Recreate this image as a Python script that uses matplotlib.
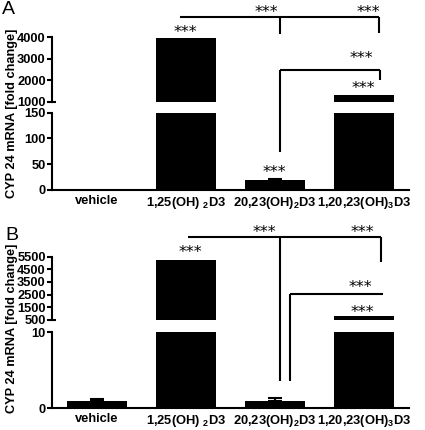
import matplotlib
matplotlib.use("Agg")
import matplotlib.pyplot as plt
from matplotlib.lines import Line2D

plt.rcParams['font.family'] = ['Liberation Sans', 'DejaVu Sans']
plt.rcParams['font.weight'] = 'bold'
plt.rcParams['mathtext.fontset'] = 'custom'
plt.rcParams['mathtext.bf'] = 'Liberation Sans:bold'
plt.rcParams['mathtext.rm'] = 'Liberation Sans:bold'
plt.rcParams['mathtext.default'] = 'bf'

# data
labels = ["vehicle", r"1,25(OH) $_2$D3", r"20,23(OH)$_2$D3", r"1,20,23(OH)$_3$D3"]
pos = [0, 1, 2, 3]
a_vals = [1, 3950, 19, 1290]
a_err = [0, 0, 3, 0]
b_vals = [1.0, 5240, 0.9, 820]
b_err = [0.2, 0, 0.45, 0]

a_up_ticks = [1000, 2000, 3000, 4000]
a_lo_ticks = [0, 50, 100, 150]
b_up_ticks = [500, 1500, 2500, 3500, 4500, 5500]
b_lo_ticks = [0, 10]

W, H = 425, 430
fig = plt.figure(figsize=(W / 100, H / 100), dpi=100)

def px_axes(x0, x1, ytop, ybot):
    return fig.add_axes([x0 / W, 1 - ybot / H, (x1 - x0) / W, (ybot - ytop) / H])

LW = 1.5

def style(ax, ticks, lims, upper):
    ax.set_xlim(-0.5, 3.5)
    ax.set_ylim(*lims)
    ax.set_yticks(ticks)
    ax.tick_params(axis='y', length=3.5, width=LW, labelsize=9.3, pad=1)
    ax.tick_params(axis='x', length=0, labelsize=9.3, pad=3.5)
    for s in ['top', 'right']:
        ax.spines[s].set_visible(False)
    ax.spines['left'].set_linewidth(LW)
    ax.spines['bottom'].set_linewidth(LW)
    if upper:
        ax.spines['bottom'].set_visible(False)
        ax.set_xticks([])
        # little foot marking the axis break
        ax.plot([0, 0.012], [0, 0], transform=ax.transAxes, color='k',
                lw=LW, clip_on=False, solid_capstyle='butt')
    else:
        ax.set_xticks(pos)
        ax.set_xticklabels(labels)

def draw_bars(ax, vals, err):
    ax.bar(pos, vals, width=0.67, color='black')
    for x, v, e in zip(pos, vals, err):
        if e > 0:
            ax.errorbar(x, v, yerr=[[0], [e]], color='black', capsize=5,
                        elinewidth=LW, capthick=LW)

def fpt(ax, x, y):
    return fig.transFigure.inverted().transform(ax.transData.transform((x, y)))

def seg(ax0, x0, y0, ax1, x1, y1):
    p0 = fpt(ax0, x0, y0)
    p1 = fpt(ax1, x1, y1)
    fig.add_artist(Line2D([p0[0], p1[0]], [p0[1], p1[1]], transform=fig.transFigure,
                          color='black', lw=LW, solid_capstyle='butt'))

def stars(ax, x, y):
    p = fpt(ax, x, y)
    fig.text(p[0], p[1], "***", ha='center', va='center', fontsize=11.5,
             fontweight='normal', family='DejaVu Sans')

# panel A
a_up = px_axes(52, 409, 37, 101.7)
a_lo = px_axes(52, 409, 112.7, 190)
for ax in (a_up, a_lo):
    draw_bars(ax, a_vals, a_err)
style(a_up, a_up_ticks, (1000, 4000), True)
style(a_lo, a_lo_ticks, (0, 150), False)

# panel B
b_up = px_axes(52, 409, 256.7, 319.7)
b_lo = px_axes(52, 409, 332.3, 408.3)
for ax in (b_up, b_lo):
    draw_bars(ax, b_vals, b_err)
style(b_up, b_up_ticks, (500, 5500), True)
style(b_lo, b_lo_ticks, (0, 10), False)

# significance brackets, panel A
seg(a_up, 0.93, 4930, a_up, 3.16, 4930)
seg(a_up, 2.05, 4930, a_up, 2.05, 4140)
seg(a_up, 3.16, 4930, a_up, 3.16, 4185)
seg(a_up, 2.06, 2470, a_up, 3.17, 2470)
seg(a_up, 2.06, 2470, a_lo, 2.06, 74)
seg(a_up, 3.17, 2470, a_up, 3.17, 2006)
stars(a_up, 1.9, 5120)
stars(a_up, 3.05, 5120)
stars(a_up, 0.99, 4230)
stars(a_up, 2.97, 2980)
stars(a_up, 2.99, 1590)
stars(a_lo, 1.99, 33)

# significance brackets, panel B
seg(b_up, 1.02, 7060, b_up, 3.19, 7060)
seg(b_up, 2.05, 7060, b_lo, 2.05, 3.6)
seg(b_up, 3.19, 7060, b_up, 3.19, 5100)
seg(b_up, 2.17, 2515, b_up, 3.21, 2515)
seg(b_up, 2.17, 2515, b_lo, 2.17, 3.6)
stars(b_up, 1.88, 7420)
stars(b_up, 2.98, 7420)
stars(b_up, 1.05, 5800)
stars(b_up, 2.96, 3090)
stars(b_up, 2.98, 1110)

# panel letters and y labels
fig.text(2 / W, 1 - 10 / H, "A", fontsize=14, fontweight='normal', va='center')
fig.text(5 / W, 1 - 236 / H, "B", fontsize=14, fontweight='normal', va='center')
fig.text(12 / W, 1 - 113 / H, "CYP 24 mRNA [fold change]", rotation=90,
         ha='center', va='center', fontsize=9.2)
fig.text(12 / W, 1 - 328 / H, "CYP 24 mRNA [fold change]", rotation=90,
         ha='center', va='center', fontsize=9.2)

plt.savefig("out.png", dpi=100)
plt.close()
